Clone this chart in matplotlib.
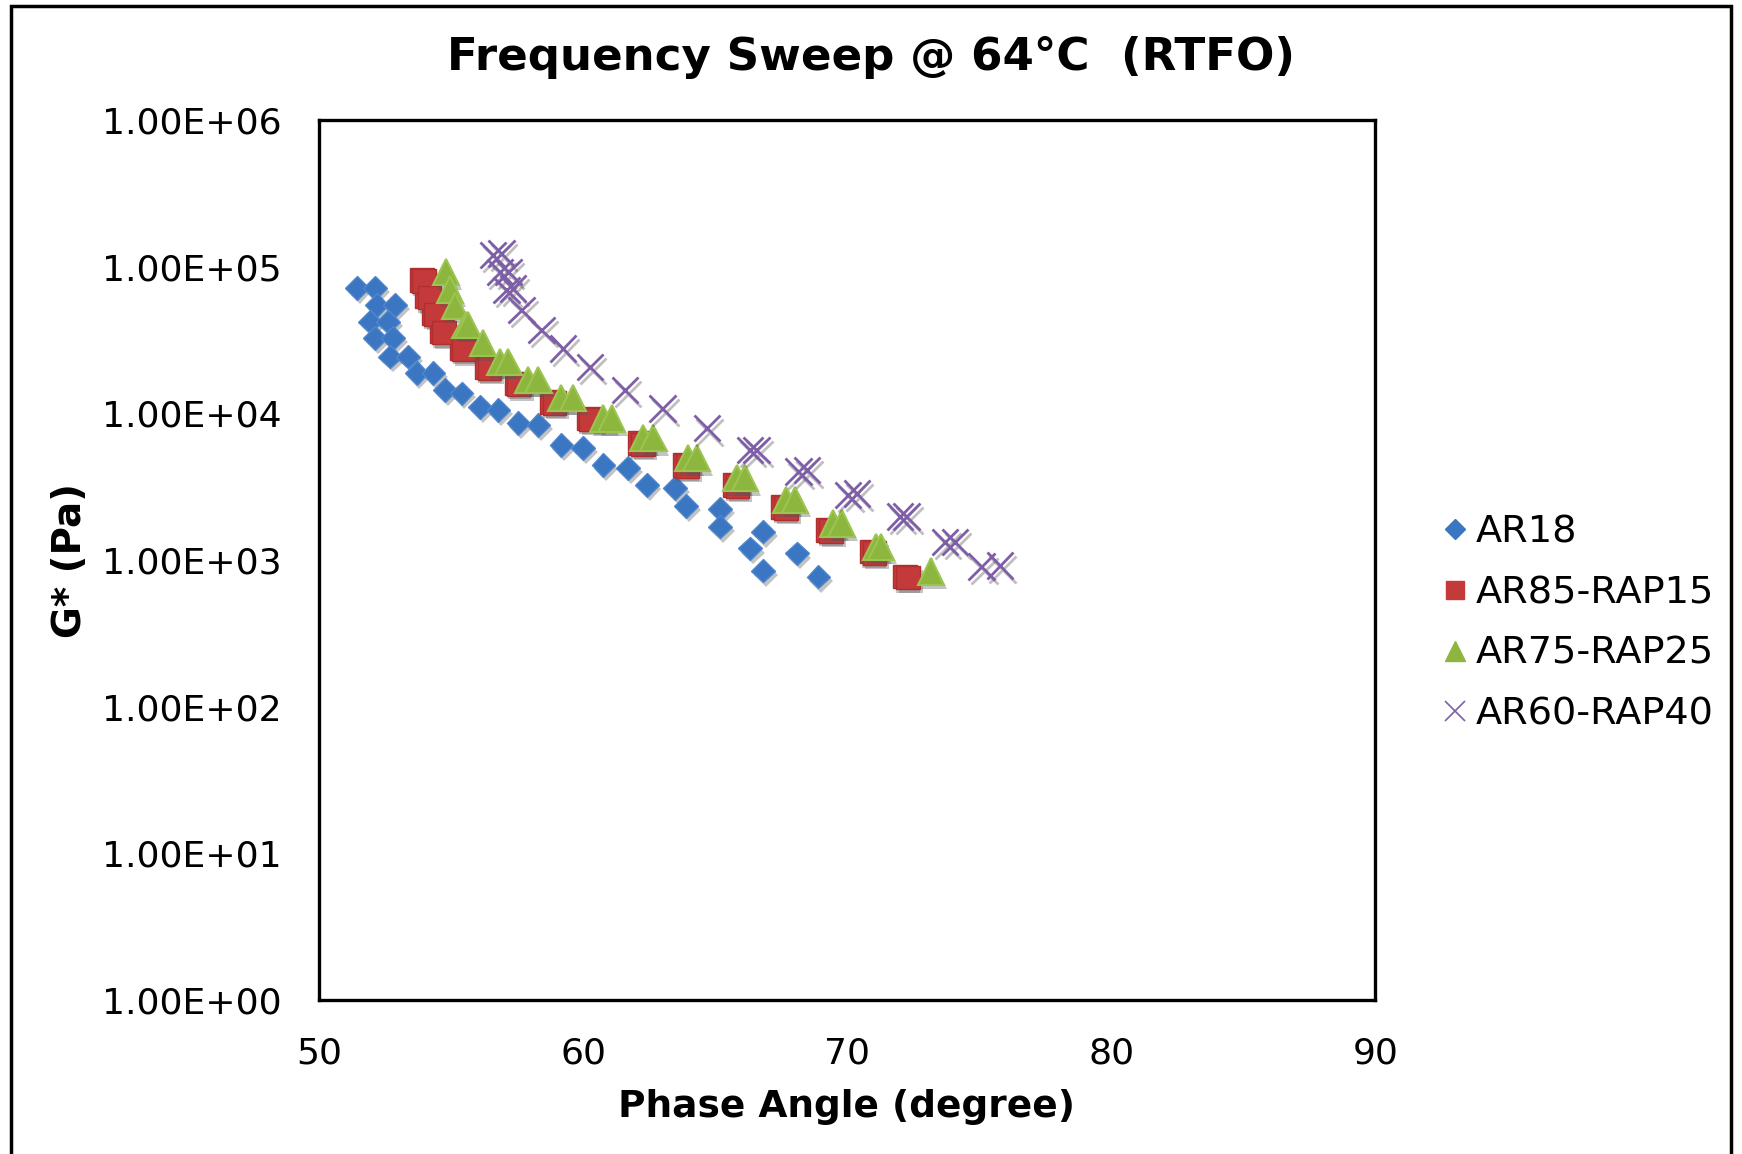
import matplotlib
matplotlib.use('Agg')
import matplotlib.pyplot as plt
import matplotlib.patheffects as pe
from matplotlib.lines import Line2D
from matplotlib.patches import Rectangle
from matplotlib.ticker import FixedLocator, FuncFormatter

plt.rcParams['font.family'] = ['DejaVu Sans']

# AR18 (blue diamonds)
ar18_x = [51.43, 52.12, 52.18, 52.88, 51.93, 52.62, 52.12, 52.81, 52.69, 53.38,
          53.70, 54.33, 54.77, 55.40, 56.10, 56.79, 57.55, 58.31, 59.18, 60.00,
          60.77, 61.71, 62.41, 63.49, 63.90, 65.19, 65.19, 66.82, 66.32, 68.09,
          66.82, 68.91]
ar18_y = [71300, 71300, 54800, 54800, 42200, 42200, 32500, 32500, 24400, 24400,
          18800, 18800, 14400, 13700, 11100, 10500, 8560, 8340, 6090, 5780,
          4450, 4230, 3250, 3090, 2340, 2220, 1690, 1560, 1200, 1110,
          847, 771]

# AR85-RAP15 (red squares, two close runs)
ar85_x = [53.89, 54.10, 54.33, 54.65, 55.40, 56.35, 57.48, 58.81, 60.20, 62.15,
          63.85, 65.74, 67.57, 69.28, 70.92, 72.19,
          53.97, 54.18, 54.42, 54.74, 55.50, 56.45, 57.58, 58.92, 60.31, 62.26,
          63.96, 65.85, 67.68, 69.39, 71.03, 72.30]
ar85_y = [81100, 62500, 48100, 36100, 27700, 20800, 16000, 12000, 9250, 6250,
          4450, 3250, 2310, 1600, 1140, 771,
          79800, 61500, 47300, 35500, 27200, 20400, 15700, 11800, 9100, 6150,
          4380, 3200, 2270, 1570, 1120, 760]

# AR75-RAP25 (green triangles)
ar75_x = [54.81, 54.96, 55.15, 55.55, 55.65, 56.22, 56.85, 57.17, 57.93, 58.31,
          59.18, 59.62, 60.77, 61.08, 62.28, 62.66, 63.98, 64.30, 65.81, 66.13,
          67.70, 68.02, 69.47, 69.79, 71.10, 71.29, 73.18]
ar75_y = [91600, 70100, 54000, 40100, 40100, 30100, 22500, 22500, 16900, 16900,
          12700, 12700, 9250, 9250, 6760, 6760, 4940, 4940, 3610, 3610,
          2570, 2570, 1780, 1780, 1230, 1230, 834]

# AR60-RAP40 (purple crosses)
ar60_x = [56.60, 56.91, 56.85, 57.17, 57.10, 57.35, 57.67, 58.43, 59.25, 60.27,
          61.59, 63.01, 64.68, 66.32, 66.57, 68.15, 68.47, 70.04, 70.36, 72.00,
          72.25, 73.71, 74.08, 75.09, 75.78]
ar60_y = [120000, 123000, 92400, 92400, 69400, 71000, 50700, 37000, 27700, 20800,
          14400, 10800, 7910, 5620, 5620, 4010, 4100, 2780, 2850, 1980,
          1980, 1330, 1330, 901, 920]

labels = ['AR18', 'AR85-RAP15', 'AR75-RAP25', 'AR60-RAP40']
yticks = [1, 10, 100, 1000, 10000, 100000, 1000000]

fig = plt.figure(figsize=(17.42, 11.54), dpi=100)
ax = fig.add_axes([0.1831, 0.1334, 0.6065, 0.7626])

shadow = [pe.SimplePatchShadow(offset=(2, -3), shadow_rgbFace='#555555', alpha=0.35),
          pe.Normal()]

ax.plot(ar18_x, ar18_y, 'D', ms=12, color='#3b76c2', mec='#4f86cc', mew=1,
        path_effects=shadow, zorder=3)
ax.plot(ar85_x, ar85_y, 's', ms=17, color='#c43a3a', mec='#b02e2e', mew=1,
        path_effects=shadow, zorder=4)
ax.plot(ar75_x, ar75_y, '^', ms=19, color='#8db63e', mec='#9cc450', mew=1.5,
        path_effects=shadow, zorder=5)
ax.plot(ar60_x, ar60_y, 'x', ms=19, color='#7e5ea8', mew=2,
        path_effects=[pe.SimpleLineShadow(offset=(2, -3), alpha=0.25), pe.Normal()],
        zorder=6)

ax.set_yscale('log')
ax.set_xlim(50, 90)
ax.set_ylim(1, 1e6)
ax.set_xticks([50, 60, 70, 80, 90])
ax.yaxis.set_major_locator(FixedLocator(yticks))
ax.yaxis.set_minor_locator(FixedLocator([]))
ax.yaxis.set_major_formatter(FuncFormatter(lambda v, p: '{:.2E}'.format(v)))
ax.tick_params(axis='both', length=0, labelsize=26)
ax.tick_params(axis='y', pad=27)
ax.tick_params(axis='x', pad=26)
for s in ax.spines.values():
    s.set_linewidth(2.4)

fig.text(0.5, 0.950, 'Frequency Sweep @ 64\u00b0C  (RTFO)', ha='center', va='center',
         fontsize=32.5, fontweight='bold')
fig.text(0.486, 0.041, 'Phase Angle (degree)', ha='center', va='center',
         fontsize=27, fontweight='bold')
fig.text(0.040, 0.514, 'G* (Pa)', ha='center', va='center', rotation=90,
         fontsize=28, fontweight='bold')

handles = [
    Line2D([], [], ls='', marker='D', ms=10, color='#3b76c2'),
    Line2D([], [], ls='', marker='s', ms=13, color='#c43a3a'),
    Line2D([], [], ls='', marker='^', ms=14, color='#8db63e'),
    Line2D([], [], ls='', marker='x', ms=14, color='#7e5ea8', mew=1.2),
]
fig.legend(handles, labels, loc='center left', bbox_to_anchor=(0.820, 0.4597),
           frameon=False, fontsize=27.5, handlelength=0.6, handletextpad=0.25,
           labelspacing=0.65, borderaxespad=0)

fig.patches.append(Rectangle((11 / 1742, -0.05), (1731 - 11) / 1742, 1.05 - 6 / 1154,
                             transform=fig.transFigure, fill=False, lw=2.5,
                             edgecolor='black'))

fig.savefig('out.png', dpi=100)
